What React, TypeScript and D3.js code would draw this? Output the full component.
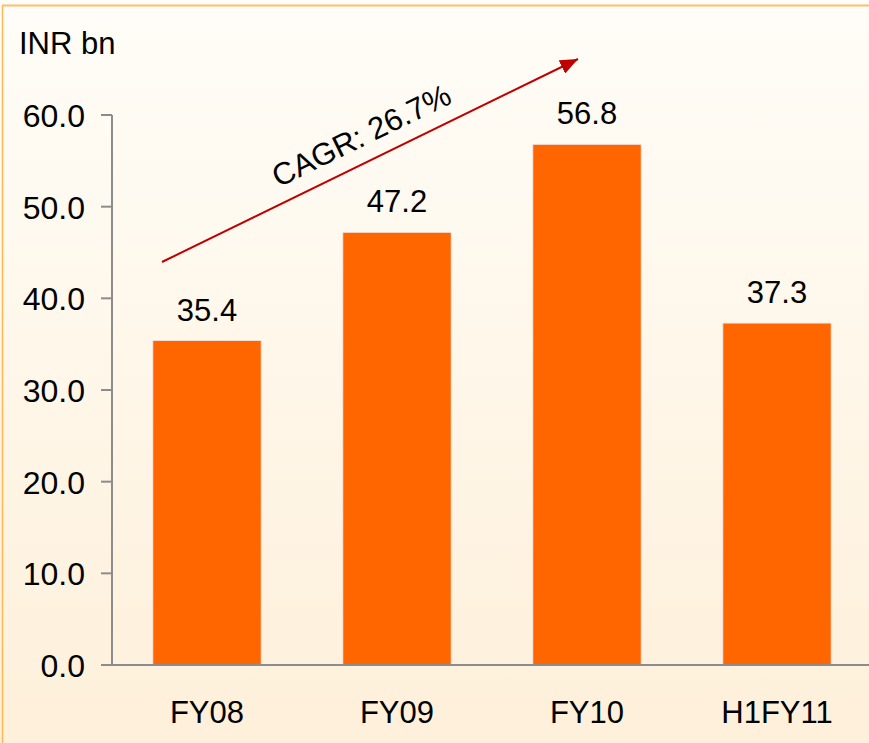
import React from "react";
import * as d3 from "d3";

const categories = ["FY08", "FY09", "FY10", "H1FY11"];
const values = [35.4, 47.2, 56.8, 37.3];
const yTicks = [0, 10, 20, 30, 40, 50, 60];
const unitLabel = "INR bn";
const cagrLabel = "CAGR: 26.7%";

const W = 869;
const H = 743;

export default function App() {
  const x = d3.scaleBand<string>().domain(categories).range([112, 872]).paddingInner(0.43).paddingOuter(0.215);
  const y = d3.scaleLinear().domain([0, 60]).range([665, 115]);

  // arrow from left of FY08 up past FY10
  const a0 = [162, 262];
  const a1 = [578, 59];
  const ang = (Math.atan2(a1[1] - a0[1], a1[0] - a0[0]) * 180) / Math.PI;

  return (
    <svg width={W} height={H} style={{ position: "absolute", left: 0, top: 0 }} fontFamily="Liberation Sans, Arial, sans-serif">
      <defs>
        <linearGradient id="bg" x1="0" y1="0" x2="0" y2="1">
          <stop offset="0" stopColor="#fffdf8" />
          <stop offset="1" stopColor="#fef0da" />
        </linearGradient>
        <marker id="head" viewBox="0 0 10 10" refX="10" refY="5" markerWidth="9" markerHeight="7.5" orient="auto" preserveAspectRatio="none">
          <path d="M0,0 L10,5 L0,10 Z" fill="#c00000" />
        </marker>
      </defs>
      <rect x={0} y={0} width={W} height={H} fill="url(#bg)" />
      <line x1={2.5} y1={5} x2={2.5} y2={H} stroke="#ffb655" strokeWidth={1.5} />
      <line x1={2} y1={5.5} x2={W} y2={5.5} stroke="#ffbe6a" strokeWidth={2} />

      <text x={19} y={54} fontSize={31}>{unitLabel}</text>

      {values.map((v, i) => (
        <g key={categories[i]}>
          <rect x={x(categories[i])} y={y(v)} width={x.bandwidth()} height={y(0) - y(v)} fill="#ff6600" stroke="#efe6ea" strokeWidth={0.8} />
          <text x={(x(categories[i]) ?? 0) + x.bandwidth() / 2} y={y(v) - 20} fontSize={31} textAnchor="middle">{v.toFixed(1)}</text>
          <text x={(x(categories[i]) ?? 0) + x.bandwidth() / 2} y={723} fontSize={31} textAnchor="middle">{categories[i]}</text>
        </g>
      ))}

      <line x1={112} y1={115} x2={112} y2={665} stroke="#8c8c8c" strokeWidth={2} />
      <line x1={101} y1={665} x2={W} y2={665} stroke="#8c8c8c" strokeWidth={2} />
      {yTicks.map((t) => (
        <g key={t}>
          <line x1={101} y1={y(t)} x2={112} y2={y(t)} stroke="#8c8c8c" strokeWidth={2} />
          <text x={85} y={y(t) + 12} fontSize={32} textAnchor="end">{t.toFixed(1)}</text>
        </g>
      ))}

      <line x1={a0[0]} y1={a0[1]} x2={a1[0]} y2={a1[1]} stroke="#c00000" strokeWidth={2} markerEnd="url(#head)" />
      <text transform={`translate(366,145) rotate(${ang})`} fontSize={31} textAnchor="middle">{cagrLabel}</text>
    </svg>
  );
}
